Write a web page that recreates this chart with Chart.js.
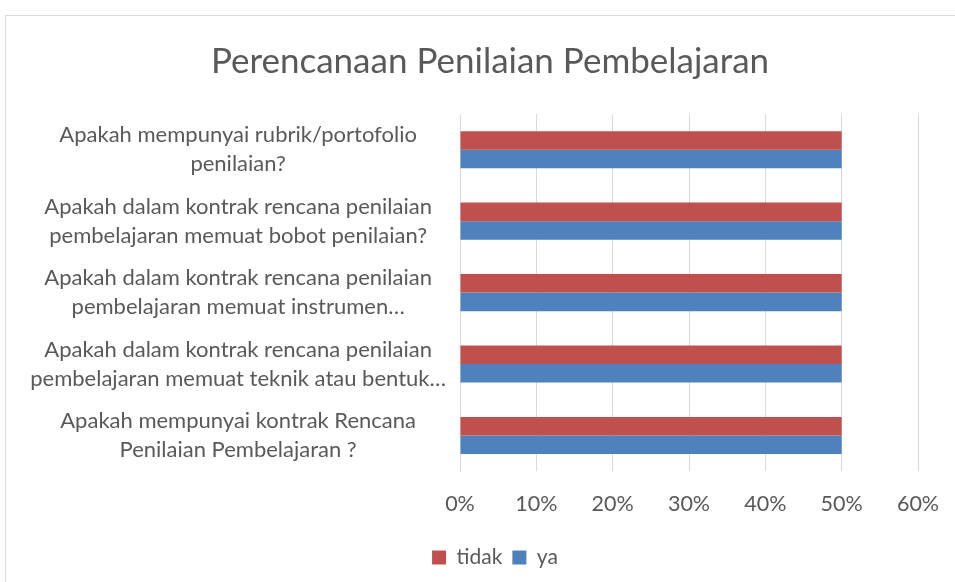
<!DOCTYPE html>
<html>
<head>
<meta charset="utf-8">
<script src="https://cdn.jsdelivr.net/npm/chart.js@4"></script>
<style>
  html, body { margin: 0; padding: 0; background: #fff; }
  #wrap { position: relative; width: 955px; height: 582px; }
  #frame { position: absolute; left: 5px; top: 15px; width: 960px; height: 580px;
           border-left: 1px solid #d9d9d9; border-top: 1px solid #d9d9d9; }
  canvas { position: absolute; left: 0; top: 0; }
</style>
</head>
<body>
<div id="wrap">
  <div id="frame"></div>
  <canvas id="chart" width="955" height="582"></canvas>
</div>
<script>
// Categories, top to bottom as shown
const categories = [
    ["Apakah mempunyai rubrik/portofolio", "penilaian?"],
    ["Apakah dalam kontrak rencana penilaian", "pembelajaran memuat bobot penilaian?"],
    ["Apakah dalam kontrak rencana penilaian", "pembelajaran memuat instrumen…"],
    ["Apakah dalam kontrak rencana penilaian", "pembelajaran memuat teknik atau bentuk…"],
    ["Apakah mempunyai kontrak Rencana", "Penilaian Pembelajaran ?"]
];

// Series values (%)
const tidakValues = [50, 50, 50, 50, 50];
const yaValues = [50, 50, 50, 50, 50];

// Axis ticks (%)
const xMin = 0;
const xMax = 60;
const xStep = 10;

const textColor = "#595959";
const fontFamily = "Lato, 'Open Sans', sans-serif";

// nudge title and legend right, like the original layout
const blockShift = {
    id: "blockShift",
    afterLayout(chart) {
        if (chart.titleBlock) chart.titleBlock.left += 52;
        if (chart.legend) chart.legend.left += 62;
    },
};

const ctx = document.getElementById("chart").getContext("2d");

new Chart(ctx, {
    type: "bar",
    data: {
        labels: categories,
        datasets: [
            {
                label: "tidak",
                data: tidakValues,
                backgroundColor: "#C0504D",
                categoryPercentage: 0.52,
                barPercentage: 1.0,
            },
            {
                label: "ya",
                data: yaValues,
                backgroundColor: "#4F81BD",
                categoryPercentage: 0.52,
                barPercentage: 1.0,
            },
        ],
    },
    options: {
        indexAxis: "y",
        responsive: false,
        animation: false,
        layout: {
            padding: { top: 41, left: 10, right: 37, bottom: 4 },
        },
        plugins: {
            title: {
                display: true,
                text: "Perencanaan Penilaian Pembelajaran",
                color: textColor,
                font: { family: fontFamily, size: 35, weight: "normal", lineHeight: 1.2 },
                padding: { top: 0, bottom: 31 },
            },
            legend: {
                position: "bottom",
                labels: {
                    color: textColor,
                    font: { family: fontFamily, size: 21 },
                    boxWidth: 14,
                    boxHeight: 14,
                    padding: 10,
                },
            },
            tooltip: { enabled: false },
        },
        scales: {
            x: {
                min: xMin,
                max: xMax,
                ticks: {
                    stepSize: xStep,
                    color: textColor,
                    font: { family: fontFamily, size: 21.5 },
                    padding: 20,
                    callback: (v) => v + "%",
                },
                grid: { color: "#d9d9d9", tickLength: 0 },
                border: { display: false },
                afterFit: (scale) => { scale.paddingRight = 0; scale.paddingLeft = 0; },
            },
            y: {
                ticks: {
                    color: textColor,
                    font: { family: fontFamily, size: 22, lineHeight: 1.32 },
                    crossAlign: "center",
                    padding: 6,
                },
                grid: { display: false },
                border: { color: "#d9d9d9" },
                afterFit: (scale) => { scale.width = 450; },
            },
        },
    },
    plugins: [blockShift],
});
</script>
</body>
</html>
